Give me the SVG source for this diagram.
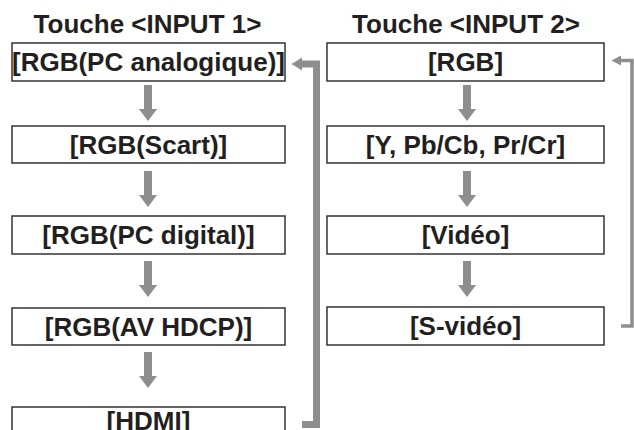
<svg xmlns="http://www.w3.org/2000/svg" xmlns:xlink="http://www.w3.org/1999/xlink" width="634" height="430" viewBox="0 0 634 430">
<style>
  .box { fill: #ffffff; stroke: #333333; stroke-width: 1.5; }
  .lbl { font-family: "Liberation Sans", Arial, sans-serif; font-weight: bold; font-size: 26px; fill: #231f20; text-anchor: middle; }
  .arr { fill: #8e8e8e; }
  .loop { fill: none; stroke: #8e8e8e; stroke-linejoin: miter; }
</style>
<defs>
  <path id="down" class="arr" d="M-4,-36 H4 V-12 H9 L0,0 L-9,-12 H-4 Z"/>
</defs>
<rect width="634" height="430" fill="#ffffff"/>
<g id="title1"><text class="lbl" x="147.5" y="33">Touche &lt;INPUT 1&gt;</text></g>
<g id="title2"><text class="lbl" x="466" y="33">Touche &lt;INPUT 2&gt;</text></g>

<g id="n1"><rect class="box" x="12" y="43" width="273" height="38"/><text class="lbl" x="148.5" y="71">[RGB(PC analogique)]</text></g>
<g id="n2"><rect class="box" x="12" y="126" width="273" height="37"/><text class="lbl" x="148.5" y="154">[RGB(Scart)]</text></g>
<g id="n3"><rect class="box" x="12" y="216" width="273" height="38"/><text class="lbl" x="148.5" y="244">[RGB(PC digital)]</text></g>
<g id="n4"><rect class="box" x="12" y="308" width="273" height="37"/><text class="lbl" x="148.5" y="336">[RGB(AV HDCP)]</text></g>
<g id="n5"><rect class="box" x="12" y="407" width="273" height="38"/><text class="lbl" x="148.5" y="430">[HDMI]</text></g>

<g id="m1"><rect class="box" x="327" y="43" width="277" height="38"/><text class="lbl" x="465.5" y="71">[RGB]</text></g>
<g id="m2"><rect class="box" x="327" y="126" width="277" height="37"/><text class="lbl" x="465.5" y="154">[Y, Pb/Cb, Pr/Cr]</text></g>
<g id="m3"><rect class="box" x="327" y="216" width="277" height="38"/><text class="lbl" x="465.5" y="244">[Vidéo]</text></g>
<g id="m4"><rect class="box" x="327" y="307" width="277" height="38"/><text class="lbl" x="465.5" y="335">[S-vidéo]</text></g>

<g id="connectors">
  <use xlink:href="#down" x="148" y="121"/>
  <use xlink:href="#down" x="148" y="207"/>
  <use xlink:href="#down" x="148" y="297"/>
  <use xlink:href="#down" x="148" y="388"/>
  <use xlink:href="#down" x="467" y="121"/>
  <use xlink:href="#down" x="467" y="207"/>
  <use xlink:href="#down" x="467" y="297"/>
  <path class="loop" stroke-width="7" d="M302,424.5 H316.5 V64 H301"/>
  <path class="arr" d="M291.5,64 L302,57.5 V70.5 Z"/>
  <path class="loop" stroke-width="3.5" d="M621,326 H632 V60.5 H620"/>
  <path class="arr" d="M611.5,60.5 L621,55.5 V65.5 Z"/>
</g>
</svg>
